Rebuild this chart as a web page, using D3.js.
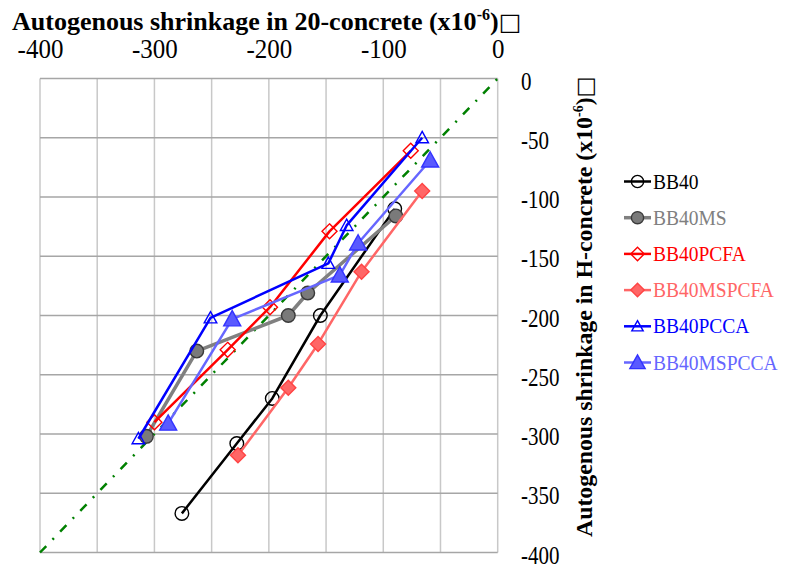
<!DOCTYPE html>
<html><head><meta charset="utf-8">
<script src="https://cdn.jsdelivr.net/npm/d3@7"></script>
<style>body{margin:0;background:#fff}svg{display:block}text{font-family:"Liberation Serif","Times New Roman",serif}</style>
</head><body>
<script>
const xTicks = [-400, -300, -200, -100, 0];
const yTicks = [0, -50, -100, -150, -200, -250, -300, -350, -400];
const seriesNames = ["BB40", "BB40MS", "BB40PCFA", "BB40MSPCFA", "BB40PCCA", "BB40MSPCCA"];
const bb40X = [-276, -228, -197, -155, -90];
const bb40Y = [-367, -308, -270, -200, -110];
const bb40msX = [-307, -263, -183, -166, -89];
const bb40msY = [-302, -230, -200, -181, -116];
const bb40pcfaX = [-300, -236, -199, -147, -76];
const bb40pcfaY = [-290, -229, -193, -129, -61];
const bb40mspcfaX = [-227, -183, -157, -119, -66];
const bb40mspcfaY = [-318, -261, -224, -163, -95];
const bb40pccaX = [-314, -251, -148, -132, -66];
const bb40pccaY = [-304, -202, -156, -124, -50];
const bb40mspccaX = [-288, -232, -138, -122, -59];
const bb40mspccaY = [-291, -203, -166, -139, -69];

const series = [
  {name: seriesNames[0], xs: bb40X, ys: bb40Y, line: "#000000", lw: 2.5, marker: "circle", fill: "none", stroke: "#000000", text: "#000000"},
  {name: seriesNames[1], xs: bb40msX, ys: bb40msY, line: "#808080", lw: 3.5, marker: "circle", fill: "#7a7a7a", stroke: "#3a3a3a", text: "#808080"},
  {name: seriesNames[2], xs: bb40pcfaX, ys: bb40pcfaY, line: "#ff0000", lw: 2.5, marker: "diamond", fill: "none", stroke: "#ff0000", text: "#ff0000"},
  {name: seriesNames[3], xs: bb40mspcfaX, ys: bb40mspcfaY, line: "#ff6666", lw: 2.5, marker: "diamond", fill: "#ff6666", stroke: "#ff4444", text: "#ff6666"},
  {name: seriesNames[4], xs: bb40pccaX, ys: bb40pccaY, line: "#0000ff", lw: 2.5, marker: "triangleS", fill: "none", stroke: "#0000ff", text: "#0000ff"},
  {name: seriesNames[5], xs: bb40mspccaX, ys: bb40mspccaY, line: "#6666ff", lw: 2.5, marker: "triangle", fill: "#5a5aff", stroke: "#3333ff", text: "#6666ff"}
];

const W = 805, H = 565;
const svg = d3.select("body").append("svg").attr("width", W).attr("height", H);
const x = d3.scaleLinear().domain([-400, 0]).range([40, 497.7]);
const y = d3.scaleLinear().domain([0, -400]).range([78.5, 552.5]);

// grid
const g = svg.append("g");
g.selectAll(".vg").data(d3.range(-400, 1, 50)).join("line")
  .attr("x1", d => x(d)).attr("x2", d => x(d)).attr("y1", y(0)).attr("y2", y(-400))
  .attr("stroke", "#c8c8c8").attr("stroke-width", 1.5);
g.selectAll(".hg").data(d3.range(-400, 1, 50)).join("line")
  .attr("y1", d => y(d)).attr("y2", d => y(d)).attr("x1", x(-400)).attr("x2", x(0))
  .attr("stroke", "#a6a6a6").attr("stroke-width", 1.5);

// axes (labels) - hyphen minus as in the original
const fmt = d => String(d);
const xAxis = d3.axisTop(x).tickValues(xTicks).tickSize(0).tickFormat(fmt);
const xa = svg.append("g").call(xAxis);
xa.select(".domain").remove();
xa.selectAll(".tick text").attr("font-size", 25).attr("fill", "#000").attr("font-family", "Liberation Serif")
  .attr("y", 0).attr("dy", 0).attr("transform", "translate(0,58.3) scale(1,1.12)");

const yAxis = d3.axisRight(y).tickValues(yTicks).tickSize(0).tickFormat(fmt);
const ya = svg.append("g").attr("transform", "translate(521,0)").call(yAxis);
ya.select(".domain").remove();
ya.selectAll(".tick text").attr("font-size", 21).attr("fill", "#000").attr("font-family", "Liberation Serif")
  .attr("x", 0).attr("dy", 0).attr("transform", "translate(0,10.5) scale(1,1.2)");

// diagonal reference line
svg.append("line").attr("x1", x(-400)).attr("y1", y(-400)).attr("x2", x(0)).attr("y2", y(0))
  .attr("stroke", "#008000").attr("stroke-width", 2.5).attr("stroke-dasharray", "9,9,2,9");

// markers
function markerPath(type, s) {
  if (type === "circle") { const r = s; return `M${-r},0A${r},${r} 0 1,0 ${r},0A${r},${r} 0 1,0 ${-r},0Z`; }
  if (type === "diamond") { return `M0,${-s}L${s},0L0,${s}L${-s},0Z`; }
  return `M0,${-s}L${s},${s*0.8}L${-s},${s*0.8}Z`;
}
const mSize = {circle: 6.8, diamond: 7.5, triangle: 8.5, triangleS: 6.3};

const line = d3.line().x(d => x(d[0])).y(d => y(d[1]));
series.forEach(s => {
  const pts = s.xs.map((v, i) => [v, s.ys[i]]);
  svg.append("path").datum(pts).attr("d", line).attr("fill", "none")
    .attr("stroke", s.line).attr("stroke-width", s.lw).attr("stroke-linejoin", "round");
  svg.append("g").selectAll("path").data(pts).join("path")
    .attr("transform", d => `translate(${x(d[0])},${y(d[1])})`)
    .attr("d", markerPath(s.marker, mSize[s.marker]))
    .attr("fill", s.fill).attr("stroke", s.stroke).attr("stroke-width", 1.4);
});

// legend
const leg = svg.append("g");
series.forEach((s, i) => {
  const cy = 181.5 + i * 36.2;
  leg.append("line").attr("x1", 624).attr("x2", 651).attr("y1", cy).attr("y2", cy)
    .attr("stroke", s.line).attr("stroke-width", s.lw);
  leg.append("path").attr("transform", `translate(637.5,${cy})`)
    .attr("d", markerPath(s.marker, mSize[s.marker] * 0.9))
    .attr("fill", s.fill).attr("stroke", s.stroke).attr("stroke-width", 1.4);
  leg.append("text").attr("transform", `translate(653,${cy + 7}) scale(1,1.08)`).attr("font-size", 19.5)
    .attr("fill", s.text).text(s.name);
});

// titles
const t1 = svg.append("text").attr("x", 12).attr("y", 30).attr("font-size", 26).attr("font-weight", "bold");
t1.append("tspan").text("Autogenous shrinkage in 20-concrete (x10");
t1.append("tspan").attr("font-size", 16).attr("dy", -10).text("-6");
t1.append("tspan").attr("dy", 10).text(")");
t1.append("tspan").attr("font-family", "DejaVu Sans").attr("font-weight", "normal").attr("font-size", 24).text("\u25A1");

const t2 = svg.append("text").attr("transform", "translate(592,537) rotate(-90)").attr("font-size", 23.8).attr("font-weight", "bold");
t2.append("tspan").text("Autogenous shrinkage in H-concrete (x10");
t2.append("tspan").attr("font-size", 14).attr("dy", -9).text("-6");
t2.append("tspan").attr("dy", 9).text(")");
t2.append("tspan").attr("font-family", "DejaVu Sans").attr("font-weight", "normal").attr("font-size", 22).text("\u25A1");
</script>
</body></html>
